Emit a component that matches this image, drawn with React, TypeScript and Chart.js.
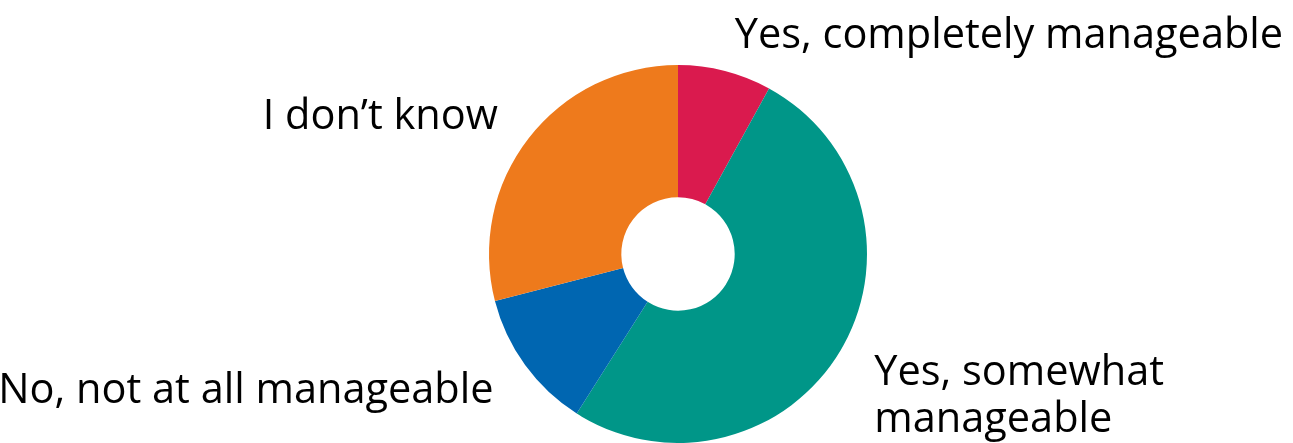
import React, { useEffect, useRef } from "react";
import { Chart, registerables } from "chart.js";

Chart.register(...registerables);

const categories: string[][] = [
  ["Yes, completely manageable"],
  ["Yes, somewhat", "manageable"],
  ["No, not at all manageable"],
  ["I don’t know"],
];
const values: number[] = [8, 51, 12, 29];
const colors: string[] = ["#DA1A4E", "#009688", "#0066B1", "#EE7A1C"];

const FONT_SIZE = 41.5;
const FONT = `${FONT_SIZE}px 'Open Sans'`;
const LABEL_DISTANCE = 39;
const LINE_HEIGHT = 47;

const labelPlugin = {
  id: "outsideLabels",
  afterDatasetsDraw(chart: any) {
    const ctx = chart.ctx;
    const meta = chart.getDatasetMeta(0);
    ctx.save();
    ctx.font = FONT;
    ctx.fillStyle = "#000000";
    ctx.textBaseline = "alphabetic";
    const capHalf = FONT_SIZE * 0.714 / 2;
    meta.data.forEach((arc: any, i: number) => {
      const p = arc.getProps(["x", "y", "startAngle", "endAngle", "outerRadius"], true);
      const mid = (p.startAngle + p.endAngle) / 2;
      const R = p.outerRadius + LABEL_DISTANCE;
      const ax = p.x + Math.cos(mid) * R;
      const ay = p.y + Math.sin(mid) * R;
      ctx.textAlign = ax >= p.x ? "left" : "right";
      const lines = categories[i];
      lines.forEach((line, j) => {
        ctx.fillText(line, ax, ay + capHalf + j * LINE_HEIGHT);
      });
    });
    ctx.restore();
  },
};

export default function App() {
  const ref = useRef<HTMLCanvasElement | null>(null);
  useEffect(() => {
    if (!ref.current) return;
    const chart = new Chart(ref.current, {
      type: "doughnut",
      data: {
        labels: categories.map((c) => c.join(" ")),
        datasets: [
          {
            data: values,
            backgroundColor: colors,
            borderWidth: 0,
          },
        ],
      },
      options: {
        animation: false,
        responsive: true,
        maintainAspectRatio: false,
        cutout: "30%",
        layout: { padding: { left: 63, right: 0, top: 65, bottom: 0 } },
        plugins: {
          legend: { display: false },
          tooltip: { enabled: false },
        },
      },
      plugins: [labelPlugin],
    });
    return () => chart.destroy();
  }, []);
  return (
    <div
      style={{
        position: "fixed",
        left: 0,
        top: 0,
        width: 1293,
        height: 443,
        background: "#ffffff",
      }}
    >
      <canvas ref={ref} />
    </div>
  );
}
